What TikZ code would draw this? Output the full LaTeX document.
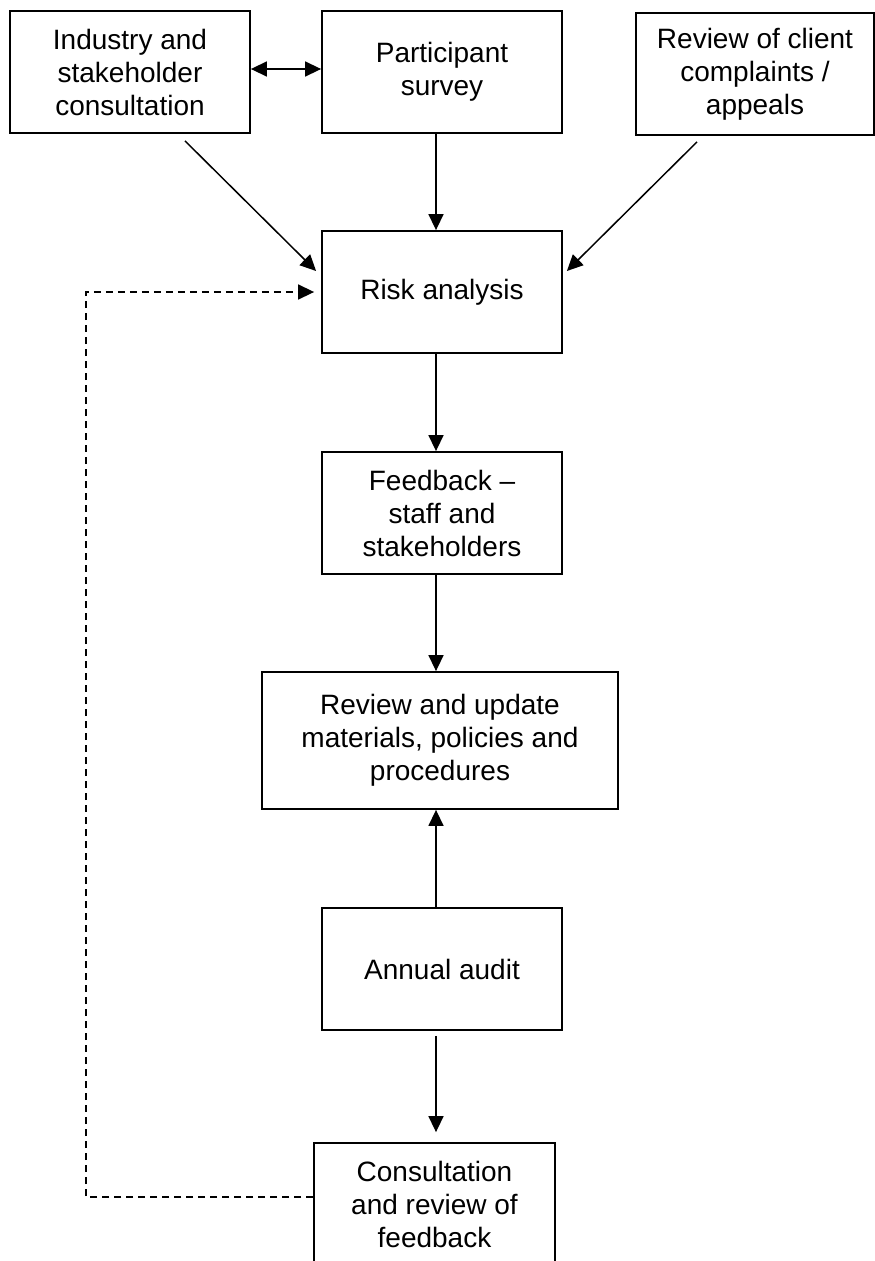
\documentclass[tikz,border=0pt]{standalone}
\usepackage{fontspec}
\setmainfont{Liberation Sans}
\usetikzlibrary{arrows.meta}

\begin{document}
\begin{tikzpicture}[x=1pt,y=-1pt,
  >={Triangle[length=16pt,width=15pt]},
  box/.style={draw,line width=1.8pt,align=center,inner sep=0pt,
    minimum width=240pt,minimum height=122pt,
    font=\fontsize{28}{33}\selectfont},
  link/.style={line width=1.5pt}]
\clip (0,0) rectangle (875,1261);
\node (ind) at (130,72) [box] {Industry and\\stakeholder\\consultation};
\node (part) at (442,72) [box] {Participant\\survey};
\node (comp) at (755,74) [box,minimum width=238pt] {Review of client\\complaints /\\appeals};
\node (risk) at (442,292) [box] {Risk analysis};
\node (fb) at (442,513) [box] {Feedback --\\staff and\\stakeholders};
\node (rev) at (440,740.5) [box,minimum width=356pt,minimum height=137pt] {Review and update\\materials, policies and\\procedures};
\node (audit) at (442,969) [box] {Annual audit};
\node (cons) at (434.5,1204) [box,minimum width=241pt] {Consultation\\and review of\\feedback};
\coordinate (back) at (86,292);
\draw [link,<->] ([yshift=3pt]ind.east) -- ([yshift=3pt]part.west);
\draw [link,->] ([shift={(55,7)}]ind.south) -- ([shift={(-5,-21)}]risk.west);
\draw [link,->] ([xshift=-6pt]part.south) -- ([xshift=-6pt]risk.north);
\draw [link,->] ([shift={(-58,6)}]comp.south) -- ([shift={(4,-21)}]risk.east);
\draw [link,->] ([xshift=-6pt]risk.south) -- ([xshift=-6pt]fb.north);
\draw [link,->] ([xshift=-6pt]fb.south) -- ([xshift=-4pt]rev.north);
\draw [link,->] ([xshift=-6pt]audit.north) -- ([xshift=-4pt]rev.south);
\draw [link,->,shorten <=5pt,shorten >=10pt] ([xshift=-6pt]audit.south) -- ([xshift=1.5pt]cons.north);
\draw [link,->,dash pattern=on 7pt off 5pt,shorten >=7pt] ([yshift=7pt]cons.west) -| (back) -- (risk.west);
\end{tikzpicture}
\end{document}
